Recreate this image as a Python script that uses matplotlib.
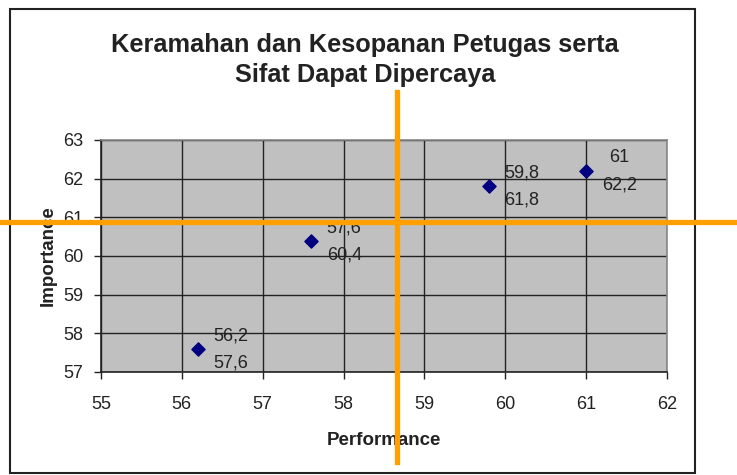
import matplotlib.pyplot as plt
from matplotlib.lines import Line2D
from matplotlib.patches import Rectangle

plt.rcParams['font.family'] = ['Liberation Sans', 'DejaVu Sans']

# data: performance (x) vs importance (y)
performance = [56.2, 57.6, 59.8, 61.0]
importance = [57.6, 60.4, 61.8, 62.2]
perf_labels = ['56,2', '57,6', '59,8', '61']
imp_labels = ['57,6', '60,4', '61,8', '62,2']
x_ticks = [55, 56, 57, 58, 59, 60, 61, 62]
y_ticks = [57, 58, 59, 60, 61, 62, 63]

W, H = 737, 475
fig = plt.figure(figsize=(W / 100, H / 100), dpi=100)

# outer chart border
fig.patches.append(Rectangle((10 / W, 1 - 473 / H), 685 / W, 464 / H, transform=fig.transFigure,
                             fill=False, edgecolor='#222222', linewidth=1.5))

ax = fig.add_axes([101 / W, 1 - 372 / H, 566 / W, 232 / H])
ax.set_facecolor('#C0C0C0')
ax.scatter(performance, importance, marker='D', s=45, color='#000080', zorder=3)

for x, y, pl, il in zip(performance, importance, perf_labels, imp_labels):
    ax.annotate(pl, (x, y), xytext=(33, 13), textcoords='offset pixels',
                ha='center', va='center', fontsize=13, color='#222222')
    ax.annotate(il, (x, y), xytext=(33, -14), textcoords='offset pixels',
                ha='center', va='center', fontsize=13, color='#222222')

ax.set_xlim(55, 62)
ax.set_ylim(57, 63)
ax.set_xticks(x_ticks)
ax.set_yticks(y_ticks)
ax.grid(True, color='#222222', linewidth=1)
ax.set_axisbelow(True)
ax.tick_params(labelsize=13, colors='#222222', length=5, width=1, direction='out', pad=12)
ax.tick_params(axis='y', pad=8)
for side in ['left', 'bottom']:
    ax.spines[side].set_color('#222222')
    ax.spines[side].set_linewidth(1.2)
for side in ['top', 'right']:
    ax.spines[side].set_color('#888888')
    ax.spines[side].set_linewidth(1.2)

ax.set_xlabel('Performance', fontsize=13.5, fontweight='bold', color='#222222', labelpad=14)
ax.set_ylabel('Importance', fontsize=13.5, fontweight='bold', color='#222222', labelpad=4)

fig.text(365 / W, 1 - 60 / H, 'Keramahan dan Kesopanan Petugas serta\nSifat Dapat Dipercaya',
         ha='center', va='center', fontsize=18.3, fontweight='bold', color='#222222', linespacing=1.35)

# orange quadrant lines drawn over the chart
fig.lines.append(Line2D([397 / W, 397 / W], [1 - 92 / H, 1 - 462 / H], transform=fig.transFigure,
                        color='#FFA000', linewidth=3.8))
fig.lines.append(Line2D([0, 1], [1 - 222 / H, 1 - 222 / H], transform=fig.transFigure,
                        color='#FFA000', linewidth=3.8))

fig.savefig('out.png', dpi=100)
